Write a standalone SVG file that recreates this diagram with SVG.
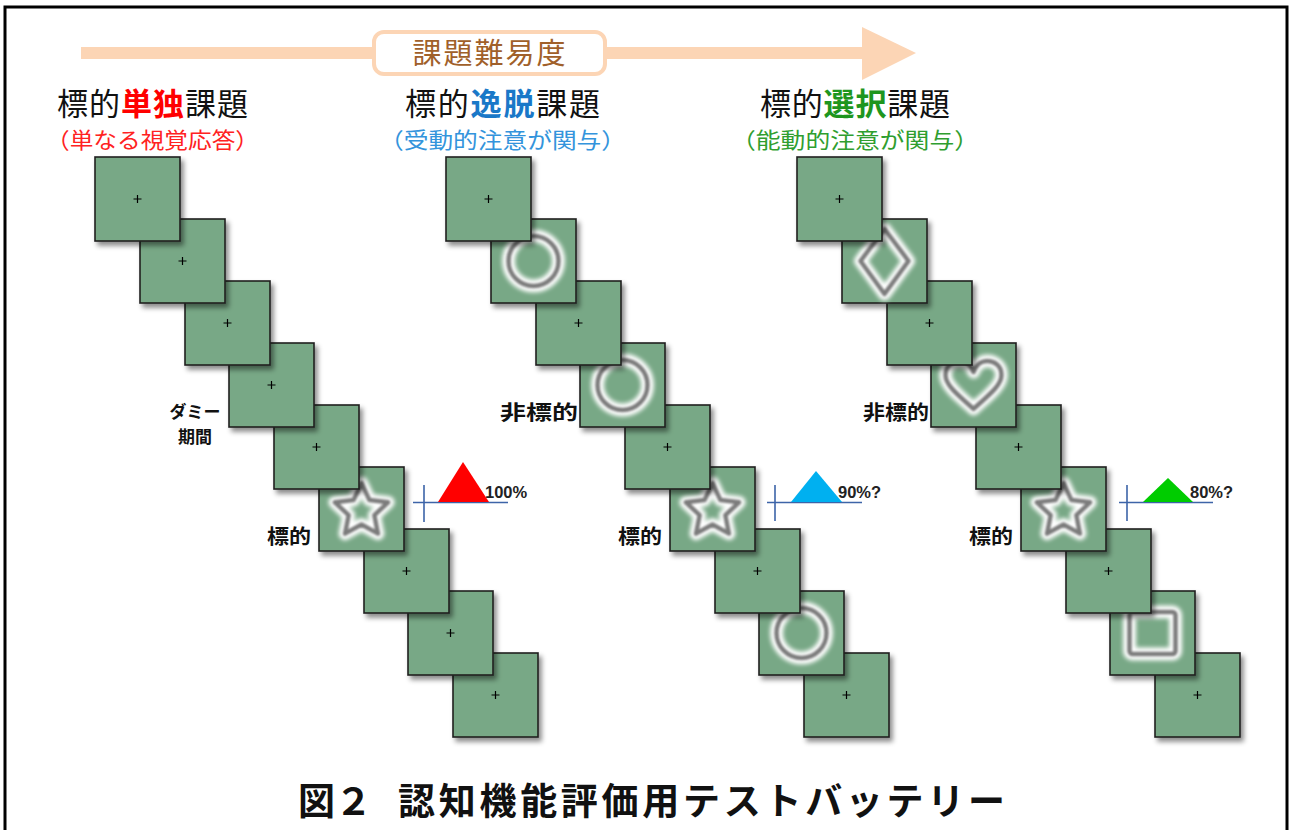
<svg xmlns="http://www.w3.org/2000/svg" xmlns:xlink="http://www.w3.org/1999/xlink" width="1293" height="830" viewBox="0 0 1293 830">
<style>
.jp{font-family:"Noto Sans CJK JP","Noto Sans CJK SC",sans-serif;}
.ttl{font-size:31px;fill:#111;}
.sub{font-size:22px;}
.lbl{font-size:20px;font-weight:bold;fill:#111;}
.dum{font-size:17px;font-weight:bold;fill:#111;text-anchor:middle;}
.pct{font-family:"Liberation Sans",Arial,sans-serif;font-size:16.5px;font-weight:bold;fill:#222;}
.tile{fill:#78a886;stroke:#1e1e1e;stroke-width:1.6;}
.fix{stroke:#000;stroke-width:1.2;fill:none;}
.halo{fill:none;stroke:#ffffff;stroke-width:13;stroke-linejoin:round;}
.ring{fill:none;stroke:#7b7b7b;stroke-width:4.5;stroke-linejoin:round;}
.axis{stroke:#3d64a8;stroke-width:1.6;fill:none;}
</style>
<defs>
<filter id="sh" x="-20%" y="-20%" width="150%" height="150%">
<feDropShadow dx="3" dy="4" stdDeviation="2.5" flood-color="#000" flood-opacity="0.45"/>
</filter>
<filter id="blurH" x="-50%" y="-50%" width="200%" height="200%"><feGaussianBlur stdDeviation="2.3"/></filter>
<filter id="blurR" x="-50%" y="-50%" width="200%" height="200%"><feGaussianBlur stdDeviation="0.8"/></filter>
<rect id="sq" width="85" height="84"/>
<path id="fx" d="M38.5 42H46.5M42.5 38V46"/>
<circle id="circ" cx="0" cy="0" r="25"/>
<path id="star" d="M0 -26L7.94 -8.92L26.63 -6.65L12.84 6.17L16.46 24.65L0 15.5L-16.46 24.65L-12.84 6.17L-26.63 -6.65L-7.94 -8.92Z"/>
<path id="diam" d="M0 -32L24 0L0 33L-24 0Z"/>
<path id="heart" d="M0 24C-10 14 -28 2 -28 -10C-28 -20 -20 -24 -14 -24C-7 -24 -2 -19 0 -13C2 -19 7 -24 14 -24C20 -24 28 -20 28 -10C28 2 10 14 0 24Z"/>
<rect id="sqs" x="-23" y="-21" width="46" height="42" rx="3"/>
<g id="s-circ"><use href="#circ" class="halo" filter="url(#blurH)"/><use href="#circ" class="ring" filter="url(#blurR)"/></g>
<g id="s-star"><use href="#star" class="halo" filter="url(#blurH)"/><use href="#star" class="ring" filter="url(#blurR)"/></g>
<g id="s-diam"><use href="#diam" class="halo" filter="url(#blurH)"/><use href="#diam" class="ring" filter="url(#blurR)"/></g>
<g id="s-heart"><use href="#heart" class="halo" filter="url(#blurH)"/><use href="#heart" class="ring" filter="url(#blurR)"/></g>
<g id="s-sqs"><use href="#sqs" class="halo" filter="url(#blurH)"/><use href="#sqs" class="ring" filter="url(#blurR)"/></g>
</defs>
<rect x="0" y="0" width="1293" height="830" fill="#fff"/>
<rect x="5" y="7" width="1282" height="840" fill="none" stroke="#000" stroke-width="3"/>

<g id="difficulty-arrow">
<rect x="81" y="47" width="785" height="12" fill="#fcd5b5"/>
<polygon points="862,27 916,53 862,80" fill="#fcd5b5"/>
<rect x="374" y="32" width="231" height="42" rx="10" fill="#fff" stroke="#fcd5b5" stroke-width="4"/>
<text x="490" y="64" class="jp" font-size="29" letter-spacing="2" fill="#a0602a" text-anchor="middle">課題難易度</text>
</g>

<g id="col1-title" class="jp">
<text x="57" y="115" class="ttl" textLength="191" lengthAdjust="spacing">標的<tspan fill="#f00" font-weight="bold">単独</tspan>課題</text>
<text x="46" y="148" class="sub" fill="#f22" textLength="213" lengthAdjust="spacingAndGlyphs">（単なる視覚応答）</text>
</g>
<g id="col2-title" class="jp">
<text x="405" y="115" class="ttl" textLength="195" lengthAdjust="spacing">標的<tspan fill="#1a78c8" font-weight="bold">逸脱</tspan>課題</text>
<text x="379" y="148" class="sub" fill="#3394dc" textLength="247" lengthAdjust="spacingAndGlyphs">（受動的注意が関与）</text>
</g>
<g id="col3-title" class="jp">
<text x="760" y="115" class="ttl" textLength="190" lengthAdjust="spacing">標的<tspan fill="#1e961e" font-weight="bold">選択</tspan>課題</text>
<text x="731" y="148" class="sub" fill="#2f9e2f" textLength="248" lengthAdjust="spacingAndGlyphs">（能動的注意が関与）</text>
</g>

<g id="col1-sequence">
<g id="c1-9" transform="translate(453,653)"><use href="#sq" class="tile" filter="url(#sh)"/><use href="#fx" class="fix"/></g>
<g id="c1-8" transform="translate(408,591)"><use href="#sq" class="tile" filter="url(#sh)"/><use href="#fx" class="fix"/></g>
<g id="c1-7" transform="translate(364,529)"><use href="#sq" class="tile" filter="url(#sh)"/><use href="#fx" class="fix"/></g>
<g id="c1-6" transform="translate(319,467)"><use href="#sq" class="tile" filter="url(#sh)"/><use href="#s-star" x="42.5" y="42"/></g>
<g id="c1-5" transform="translate(274,405)"><use href="#sq" class="tile" filter="url(#sh)"/><use href="#fx" class="fix"/></g>
<g id="c1-4" transform="translate(229,343)"><use href="#sq" class="tile" filter="url(#sh)"/><use href="#fx" class="fix"/></g>
<g id="c1-3" transform="translate(185,281)"><use href="#sq" class="tile" filter="url(#sh)"/><use href="#fx" class="fix"/></g>
<g id="c1-2" transform="translate(140,219)"><use href="#sq" class="tile" filter="url(#sh)"/><use href="#fx" class="fix"/></g>
<g id="c1-1" transform="translate(95,157)"><use href="#sq" class="tile" filter="url(#sh)"/><use href="#fx" class="fix"/></g>
</g>

<g id="col2-sequence">
<g id="c2-9" transform="translate(804,653)"><use href="#sq" class="tile" filter="url(#sh)"/><use href="#fx" class="fix"/></g>
<g id="c2-8" transform="translate(759,591)"><use href="#sq" class="tile" filter="url(#sh)"/><use href="#s-circ" x="42.5" y="42"/></g>
<g id="c2-7" transform="translate(715,529)"><use href="#sq" class="tile" filter="url(#sh)"/><use href="#fx" class="fix"/></g>
<g id="c2-6" transform="translate(670,467)"><use href="#sq" class="tile" filter="url(#sh)"/><use href="#s-star" x="42.5" y="42"/></g>
<g id="c2-5" transform="translate(625,405)"><use href="#sq" class="tile" filter="url(#sh)"/><use href="#fx" class="fix"/></g>
<g id="c2-4" transform="translate(580,343)"><use href="#sq" class="tile" filter="url(#sh)"/><use href="#s-circ" x="42.5" y="42"/></g>
<g id="c2-3" transform="translate(536,281)"><use href="#sq" class="tile" filter="url(#sh)"/><use href="#fx" class="fix"/></g>
<g id="c2-2" transform="translate(491,219)"><use href="#sq" class="tile" filter="url(#sh)"/><use href="#s-circ" x="42.5" y="42"/></g>
<g id="c2-1" transform="translate(446,157)"><use href="#sq" class="tile" filter="url(#sh)"/><use href="#fx" class="fix"/></g>
</g>

<g id="col3-sequence">
<g id="c3-9" transform="translate(1155,653)"><use href="#sq" class="tile" filter="url(#sh)"/><use href="#fx" class="fix"/></g>
<g id="c3-8" transform="translate(1110,591)"><use href="#sq" class="tile" filter="url(#sh)"/><use href="#s-sqs" x="42.5" y="42"/></g>
<g id="c3-7" transform="translate(1066,529)"><use href="#sq" class="tile" filter="url(#sh)"/><use href="#fx" class="fix"/></g>
<g id="c3-6" transform="translate(1021,467)"><use href="#sq" class="tile" filter="url(#sh)"/><use href="#s-star" x="42.5" y="42"/></g>
<g id="c3-5" transform="translate(976,405)"><use href="#sq" class="tile" filter="url(#sh)"/><use href="#fx" class="fix"/></g>
<g id="c3-4" transform="translate(931,343)"><use href="#sq" class="tile" filter="url(#sh)"/><use href="#s-heart" x="42.5" y="42"/></g>
<g id="c3-3" transform="translate(887,281)"><use href="#sq" class="tile" filter="url(#sh)"/><use href="#fx" class="fix"/></g>
<g id="c3-2" transform="translate(842,219)"><use href="#sq" class="tile" filter="url(#sh)"/><use href="#s-diam" x="42.5" y="42"/></g>
<g id="c3-1" transform="translate(797,157)"><use href="#sq" class="tile" filter="url(#sh)"/><use href="#fx" class="fix"/></g>
</g>

<g id="labels" class="jp">
<text x="195" y="418" class="dum">ダミー</text>
<text x="195" y="443" class="dum">期間</text>
<text x="500" y="420" class="lbl" textLength="78" lengthAdjust="spacingAndGlyphs">非標的</text>
<text x="863" y="420" class="lbl" textLength="66" lengthAdjust="spacingAndGlyphs">非標的</text>
<text x="267" y="544" class="lbl" textLength="44" lengthAdjust="spacingAndGlyphs">標的</text>
<text x="618" y="544" class="lbl" textLength="44" lengthAdjust="spacingAndGlyphs">標的</text>
<text x="969" y="544" class="lbl" textLength="44" lengthAdjust="spacingAndGlyphs">標的</text>
</g>

<g id="connectors">
<path class="axis" d="M424 485V522M413 502.5H508"/>
<path class="axis" d="M775 485V521M767 502.5H862"/>
<path class="axis" d="M1127 485V521M1119 502.5H1213"/>
</g>

<g id="response-100">
<polygon points="438,502 463,462 489,502" fill="#ff0000"/>
<text x="485" y="498" class="pct">100%</text>
</g>
<g id="response-90">
<polygon points="791,502 816,471 842,502" fill="#00b0f0"/>
<text x="838" y="498" class="pct">90%?</text>
</g>
<g id="response-80">
<polygon points="1143,502 1168,478 1193,502" fill="#00cc00"/>
<text x="1190" y="498" class="pct">80%?</text>
</g>

<g id="caption" class="jp" font-weight="bold" fill="#111">
<text x="298" y="815" font-size="37">図２</text>
<text x="398" y="815" font-size="37" textLength="607" lengthAdjust="spacing">認知機能評価用テストバッテリー</text>
</g>
</svg>
